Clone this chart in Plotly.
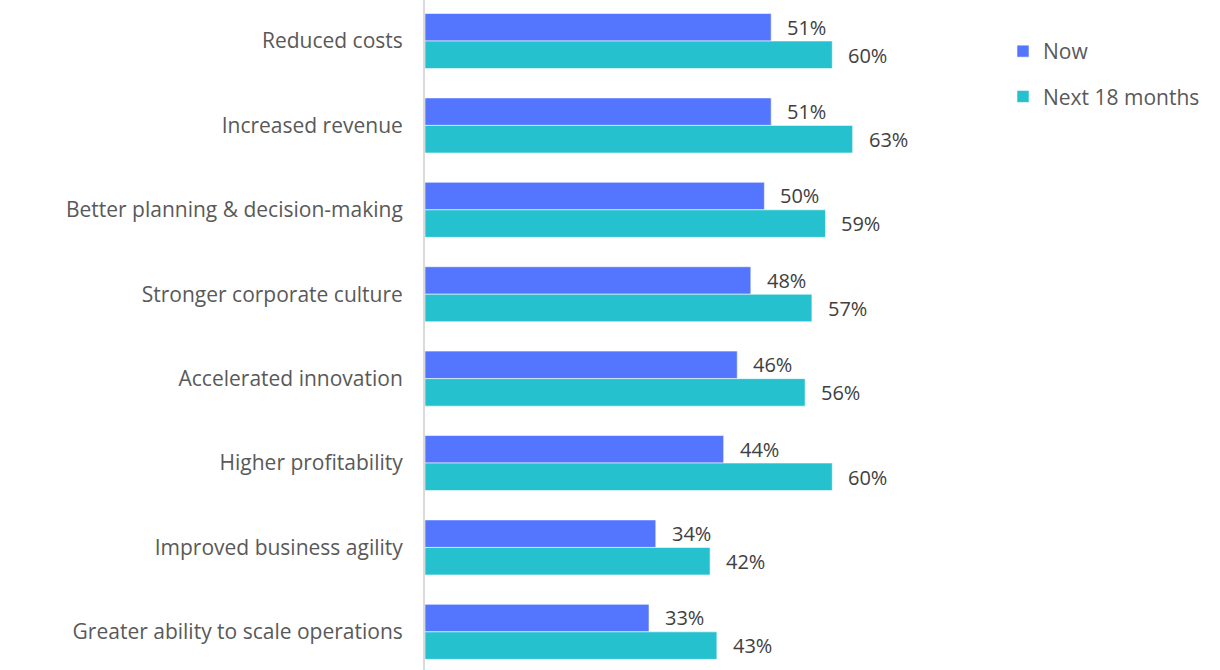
import plotly.graph_objects as go

categories = [
    "Reduced costs",
    "Increased revenue",
    "Better planning & decision-making",
    "Stronger corporate culture",
    "Accelerated innovation",
    "Higher profitability",
    "Improved business agility",
    "Greater ability to scale operations",
]
now_values = [51, 51, 50, 48, 46, 44, 34, 33]
next_values = [60, 63, 59, 57, 56, 60, 42, 43]

series = [
    ("Now", now_values, "#5476FE", -14),
    ("Next 18 months", next_values, "#25C1CF", 14),
]

FONT = "'Open Sans', Lato, sans-serif"
TEXT_COLOR = "#595959"

fig = go.Figure()
annotations = []
for name, vals, color, yshift in series:
    fig.add_trace(go.Bar(
        name=name,
        y=categories,
        x=vals,
        orientation="h",
        marker=dict(color=color, line=dict(color="rgba(255,255,255,0.55)", width=1)),
        legendgroup=name,
        hoverinfo="skip",
    ))
    for cat, v in zip(categories, vals):
        annotations.append(dict(
            x=v, y=cat, xref="x", yref="y",
            text=f"{v}%", showarrow=False,
            xanchor="left", yanchor="middle",
            xshift=14, yshift=-yshift,
            font=dict(family=FONT, size=20, color="#404040"),
        ))

fig.update_layout(
    width=1220, height=670,
    margin=dict(l=425, r=235, t=0, b=0),
    paper_bgcolor="white", plot_bgcolor="white",
    barmode="group", bargap=0.348, bargroupgap=0,
    font=dict(family=FONT, size=20, color=TEXT_COLOR),
    xaxis=dict(range=[0, 82.5], visible=False, fixedrange=True),
    yaxis=dict(
        categoryorder="array", categoryarray=categories,
        range=[7.452, -0.486],
        showline=True, linecolor="#D9D9D9", linewidth=2,
        showgrid=False, zeroline=False,
        ticks="", ticklabelstandoff=16,
        tickfont=dict(family=FONT, size=21, color=TEXT_COLOR),
    ),
    legend=dict(
        xref="container", yref="container",
        x=1003 / 1220, y=1 - 31 / 670,
        xanchor="left", yanchor="top",
        font=dict(family=FONT, size=21, color=TEXT_COLOR),
        tracegroupgap=15,
        bgcolor="rgba(0,0,0,0)",
    ),
    annotations=annotations,
    showlegend=True,
)

fig.write_html("out.html")
